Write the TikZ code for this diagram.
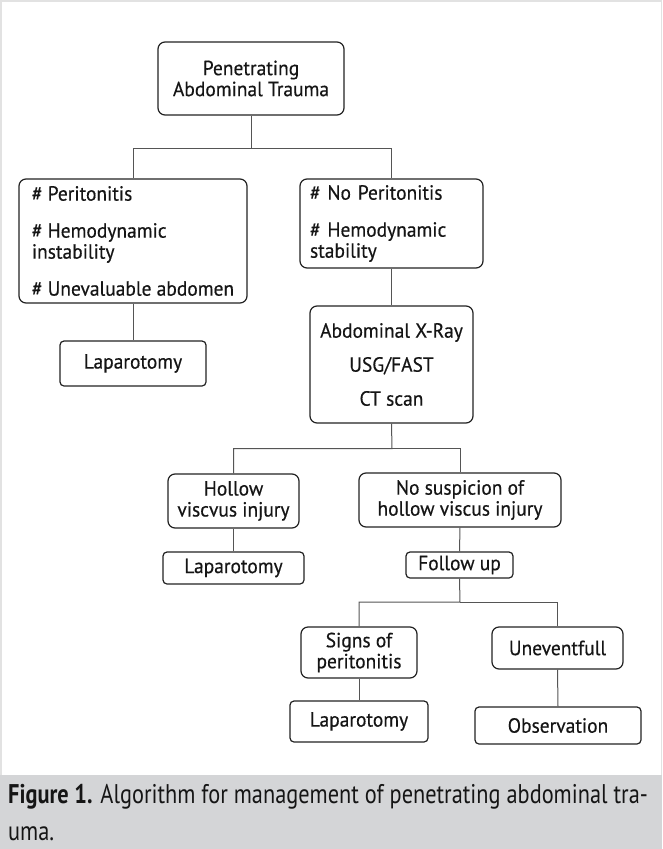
\documentclass[tikz,border=0pt]{standalone}
\usepackage{fontspec}
\setmainfont{PT Sans}[FakeStretch=0.95,FakeBold=0.4]
\newfontfamily\capfont{PT Sans}[FakeStretch=0.827]
\usepackage{tikz}
\definecolor{boxline}{HTML}{222222}
\definecolor{linkline}{HTML}{555555}
\definecolor{textcol}{HTML}{151515}
\definecolor{capband}{HTML}{D4D5D7}
\definecolor{framecol}{HTML}{E2E2E2}

\begin{document}
\begin{tikzpicture}[x=1pt,y=-1pt,
		box/.style={draw=boxline,line width=1.2pt,rounded corners=7pt,text=textcol,align=center,inner sep=0pt,font=\fontsize{20.5}{21}\selectfont},
		endbox/.style={box,rounded corners=4pt},
		link/.style={draw=linkline,line width=1pt}]
			\useasboundingbox (0,0) rectangle (662,849);
			\fill[white] (0,0) rectangle (662,775);
			\draw[framecol,line width=1.5pt] (0.75,775) -- (0.75,0.75) -- (661.25,0.75) -- (661.25,775);
			\fill[capband] (0,775) rectangle (662,849);
			\node[box,minimum width=186pt,minimum height=73pt] (trauma) at (251,78.5) {Penetrating\\Abdominal Trauma};
			\node[box,minimum width=228pt,minimum height=124pt,align=left] (peri) at (133,241) {\#~Peritonitis\\[16pt]\#~Hemodynamic\\instability\\[16pt]\#~Unevaluable abdomen};
			\node[box,minimum width=183pt,minimum height=89pt,text width=163pt,align=left] (noperi) at (391.5,223.5) {\#~No Peritonitis\\[16pt]\#~Hemodynamic\\stability};
			\node[endbox,minimum width=146pt,minimum height=45pt] (lapA) at (133,363.5) {Laparotomy};
			\node[box,minimum width=163pt,minimum height=117pt] (imaging) at (391.5,364.5) {Abdominal X-Ray\\[13pt]USG/FAST\\[13pt]CT scan};
			\node[box,minimum width=131pt,minimum height=54pt] (hollow) at (233.5,501) {Hollow\\viscvus injury};
			\node[box,minimum width=202pt,minimum height=54pt] (nosusp) at (460,500) {No suspicion of\\hollow viscus injury};
			\node[endbox,minimum width=141pt,minimum height=32pt] (lapB) at (233.5,568) {Laparotomy};
			\node[endbox,minimum width=107pt,minimum height=26pt] (follow) at (459.5,565) {Follow up};
			\node[box,minimum width=116pt,minimum height=51pt] (signs) at (359,652.5) {Signs of\\peritonitis};
			\node[box,minimum width=131pt,minimum height=42pt] (unev) at (557.5,648) {Uneventfull};
			\node[endbox,minimum width=138pt,minimum height=41pt] (lapC) at (359,721.5) {Laparotomy};
			\node[endbox,minimum width=166pt,minimum height=37pt] (obs) at (558,725.5) {Observation};
			\coordinate (j1) at (251,148);
			\coordinate (j2) at (392,448.5);
			\coordinate (j3) at (460,602);
			\draw[link] (trauma.south) -- (j1) -| (peri.north);
			\draw[link] (j1) -| (noperi.north);
			\draw[link] (peri.south) -- (lapA.north);
			\draw[link] (noperi.south) -- (imaging.north);
			\draw[link] (imaging.south) -- (j2) -| (hollow.north);
			\draw[link] (j2) -| (nosusp.north);
			\draw[link] (hollow.south) -- (lapB.north);
			\draw[link] (nosusp.south) -- (follow.north);
			\draw[link] (follow.south) -- (j3) -| (signs.north);
			\draw[link] (j3) -| (unev.north);
			\draw[link] (signs.south) -- (lapC.north);
			\draw[link] (unev.south) -- (obs.north);
			\node[anchor=base west,inner sep=0pt,text=textcol,font=\capfont\fontsize{27}{30}\selectfont] (capA) at (8,803) {\textbf{Figure 1.} Algorithm for management of penetrating abdominal tra-};
			\node[anchor=base west,inner sep=0pt,text=textcol,font=\capfont\fontsize{27}{30}\selectfont] (capB) at (8,840) {uma.};
		\end{tikzpicture}
\end{document}
